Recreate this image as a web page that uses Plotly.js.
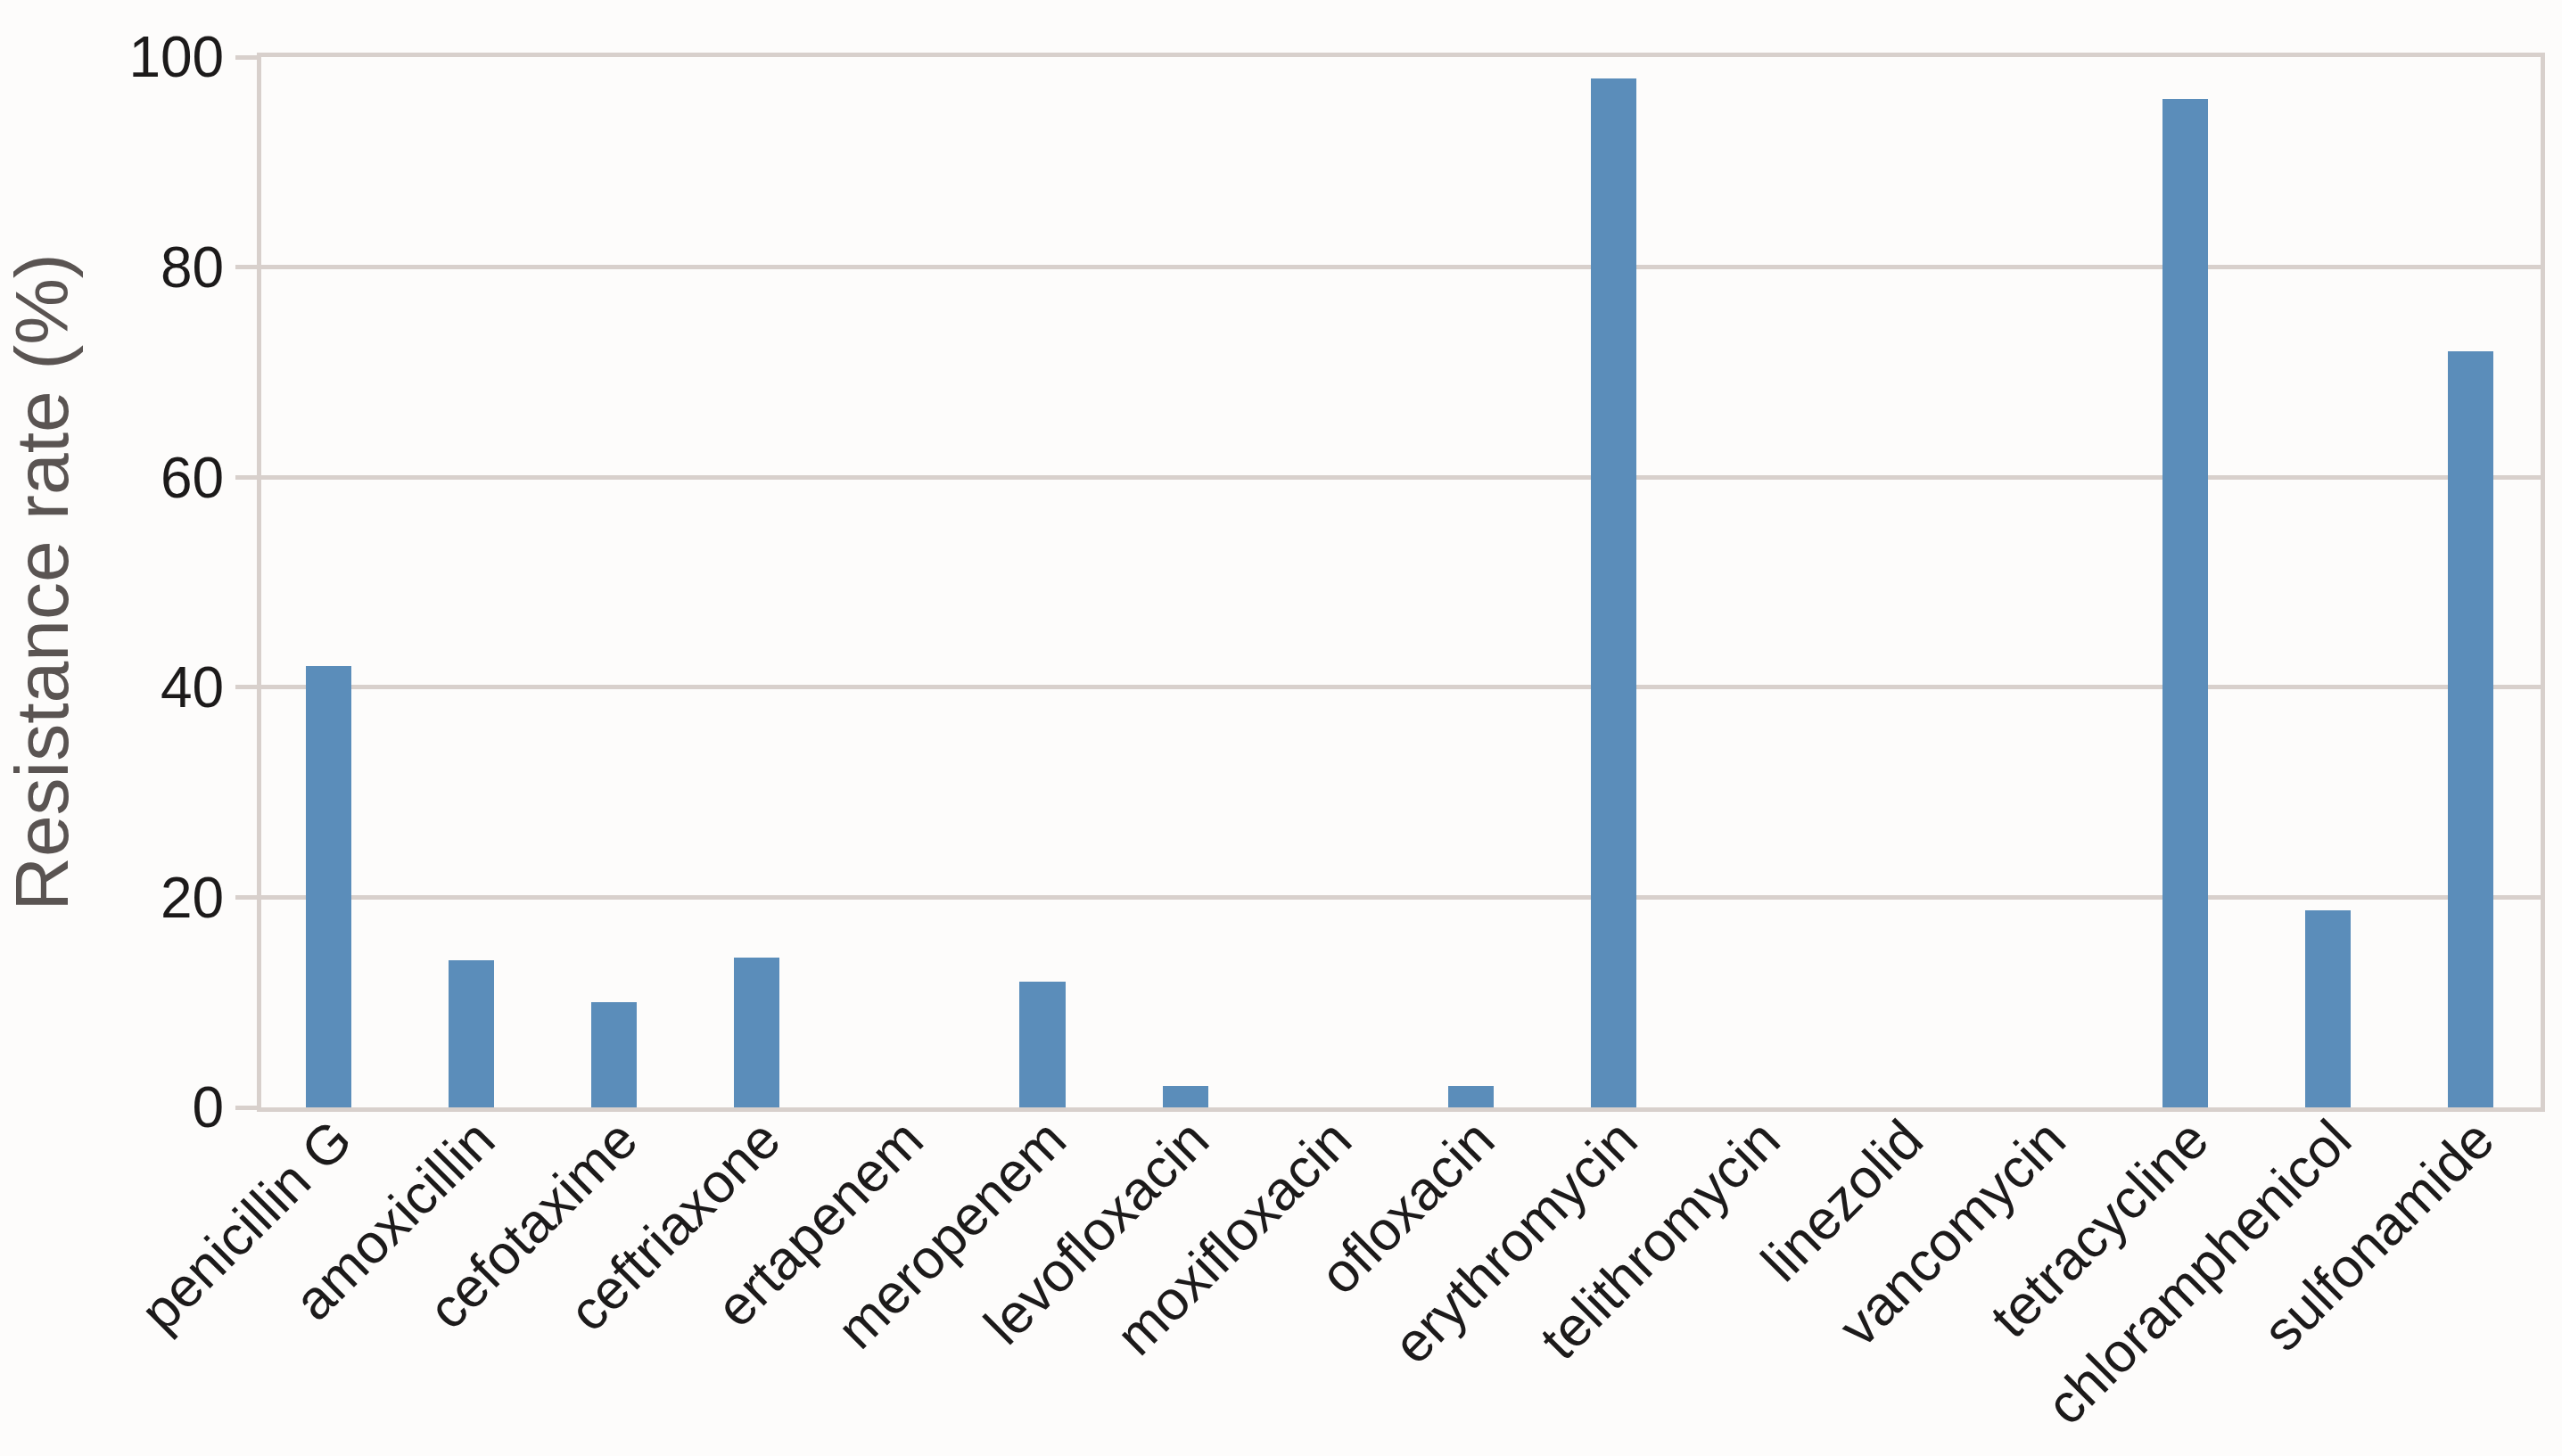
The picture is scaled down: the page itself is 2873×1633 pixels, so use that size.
<!DOCTYPE html>
<html>
<head>
<meta charset="utf-8">
<script src="https://cdn.plot.ly/plotly-3.0.1.min.js"></script>
<style>
  html, body { margin: 0; padding: 0; background: #fdfcfb; }
  #chart { width: 2873px; height: 1633px; }
</style>
</head>
<body>
<div id="chart"></div>
<script>
const antibiotics = [
  "penicillin G", "amoxicillin", "cefotaxime", "ceftriaxone", "ertapenem",
  "meropenem", "levofloxacin", "moxifloxacin", "ofloxacin", "erythromycin",
  "telithromycin", "linezolid", "vancomycin", "tetracycline",
  "chloramphenicol", "sulfonamide",
];
const resistanceRate = [42, 14, 10, 14.3, 0, 12, 2, 0, 2, 98, 0, 0, 0, 96, 18.8, 72];
const yTicks = [0, 20, 40, 60, 80, 100];

const COLORS = {
  bar: "#5b8dba",
  grid: "#d8d0cc",
  text: "#1c1a1a",
  title: "#5a5452",
  bg: "#fdfcfb",
};

const trace = {
  x: antibiotics,
  y: resistanceRate,
  type: "bar",
  width: 0.32,
  marker: { color: COLORS.bar, line: { width: 0 } },
  hoverinfo: "x+y",
};

const layout = {
  width: 2873,
  height: 1633,
  font: { family: "Liberation Sans, Arial, sans-serif", size: 64, color: COLORS.text },
  paper_bgcolor: COLORS.bg,
  plot_bgcolor: COLORS.bg,
  margin: { t: 64, r: 24, b: 391, l: 293 },
  showlegend: false,
  bargap: 0,
  xaxis: {
    type: "category",
    range: [-0.47, 15.49],
    tickangle: -45,
    tickfont: { size: 62, color: COLORS.text },
    ticklabelstandoff: -30,
    ticklabelshift: 8,
    showgrid: false,
    showline: true,
    linecolor: COLORS.grid,
    linewidth: 5,
    mirror: true,
    ticks: "",
  },
  yaxis: {
    range: [0, 100],
    tickvals: yTicks,
    tickfont: { size: 64, color: COLORS.text },
    showgrid: true,
    gridcolor: COLORS.grid,
    gridwidth: 5,
    showline: true,
    linecolor: COLORS.grid,
    linewidth: 5,
    mirror: true,
    ticks: "outside",
    ticklen: 24,
    tickwidth: 5,
    tickcolor: COLORS.grid,
    zeroline: false,
    title: {
      text: "Resistance rate (%)",
      font: { size: 84, color: COLORS.title },
      standoff: 44,
    },
  },
};

Plotly.newPlot("chart", [trace], layout, { displayModeBar: false, staticPlot: true });
</script>
</body>
</html>
